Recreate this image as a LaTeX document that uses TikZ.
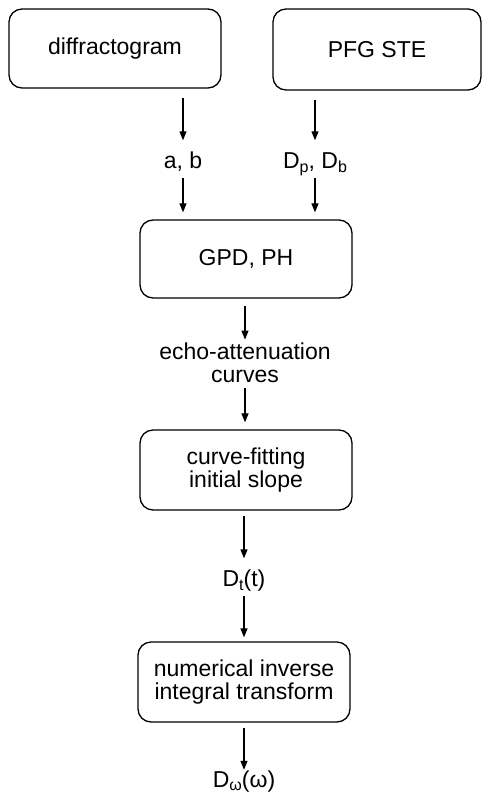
\documentclass[tikz,border=0pt]{standalone}
\usepackage{fontspec}
\setmainfont{Liberation Sans}
\usetikzlibrary{arrows.meta}
\newcommand{\sbs}[1]{\raisebox{-0.32ex}{\fontsize{16}{16}\selectfont #1}}
\begin{document}
\begin{tikzpicture}[x=1pt,y=1pt,
  font=\fontsize{23}{23}\selectfont,
  box/.style={draw, line width=1.3pt, rounded corners=13pt, align=center, inner sep=0pt},
  lbl/.style={anchor=base, inner sep=0pt, text height=28pt, text depth=9pt},
  arr/.style={-{Triangle[length=9pt,width=7pt]}, line width=1.2pt}]
\useasboundingbox (0,0) rectangle (483,-795);
\node[box, minimum width=212pt, minimum height=79pt] (diff) at (115,-48.5) {diffractogram};
\node[box, minimum width=208pt, minimum height=81pt] (pfg) at (377,-49.5) {PFG STE};
\node[lbl] (ab) at (183,-168.5) {a, b};
\node[lbl] (dpdb) at (315,-168.5) {D\sbs{p}, D\sbs{b}};
\node[box, minimum width=212pt, minimum height=78pt] (gpd) at (246,-259) {GPD, PH};
\node[align=center, inner sep=0pt] (echo) at (245,-362.7) {echo-attenuation\\curves};
\node[box, minimum width=212pt, minimum height=80pt] (cf) at (246,-470) {curve-fitting\\initial slope};
\node[lbl] (dt) at (244,-586.5) {D\sbs{t}(t)};
\node[box, minimum width=212pt, minimum height=80pt] (num) at (244,-682) {numerical inverse\\integral transform};
\node[lbl, text height=17pt, text depth=6pt] (dw) at (244,-787) {D\sbs{ω}(ω)};

\draw[arr, shorten <=9pt] (diff.south -| ab.north) -- (ab.north);
\draw[arr, shorten >=7pt] (ab.south) -- (gpd.north -| ab.south);
\draw[arr, shorten <=9pt] (pfg.south -| dpdb.north) -- (dpdb.north);
\draw[arr, shorten >=7pt] (dpdb.south) -- (gpd.north -| dpdb.south);
\draw[arr, shorten <=7pt, shorten >=3pt] (gpd.south -| echo.north) -- (echo.north);
\draw[arr, shorten <=5pt, shorten >=7pt] (echo.south) -- (cf.north -| echo.south);
\draw[arr, shorten <=5pt] (cf.south -| dt.north) -- (dt.north);
\draw[arr, shorten >=4pt] (dt.south) -- (num.north -| dt.south);
\draw[arr, shorten <=5pt] (num.south -| dw.north) -- (dw.north);
\end{tikzpicture}
\end{document}
